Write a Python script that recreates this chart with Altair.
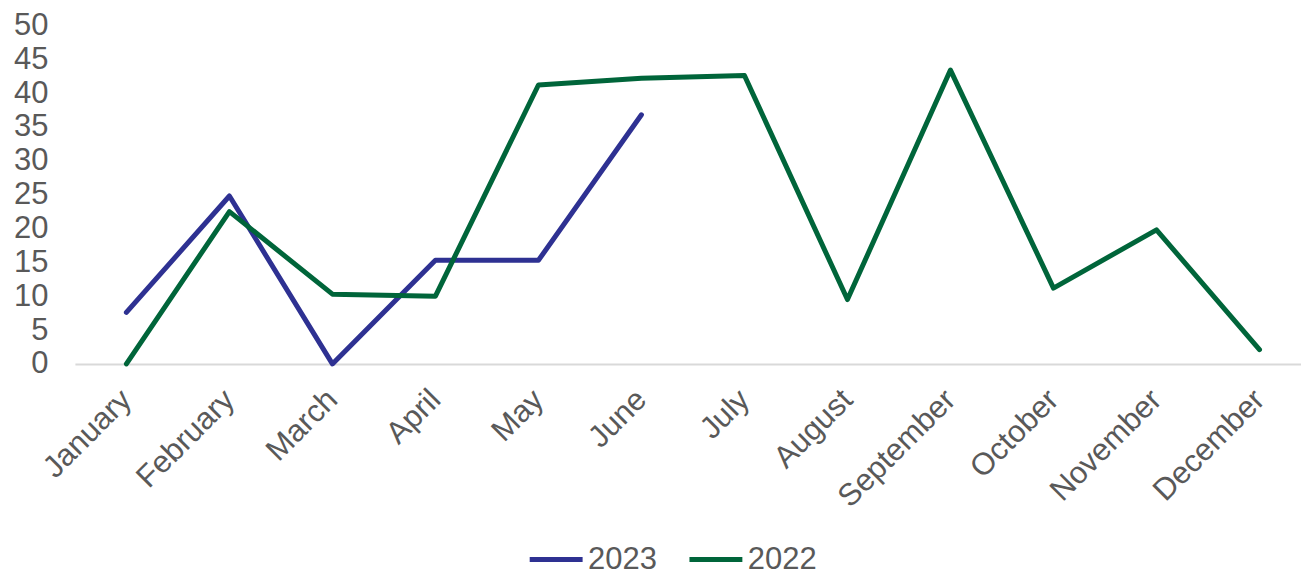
import altair as alt
import pandas as pd

months = ["January", "February", "March", "April", "May", "June",
          "July", "August", "September", "October", "November", "December"]
values_2023 = [7.6, 24.8, 0.0, 15.3, 15.3, 36.8]
values_2022 = [0.0, 22.5, 10.3, 10.0, 41.2, 42.2, 42.6, 9.5, 43.4, 11.2, 19.8, 2.1]
series = ["2023", "2022"]
colors = ["#2E3192", "#00653A"]

rows = []
for m, v in zip(months, values_2023):
    rows.append({"month": m, "value": v, "year": "2023"})
for m, v in zip(months, values_2022):
    rows.append({"month": m, "value": v, "year": "2022"})
df = pd.DataFrame(rows)

font = "Liberation Sans"
tc = "#595959"
fs = 31

chart = alt.Chart(df).mark_line(strokeWidth=5, strokeCap="round", strokeJoin="round").encode(
    x=alt.X("month:N", sort=months, title=None,
            scale=alt.Scale(padding=0.5),
            axis=alt.Axis(labelAngle=-45, labelAlign="right", labelBaseline="middle",
                          labelPadding=31, ticks=False, domainColor="#D9D9D9", domainWidth=2,
                          labelFont=font, labelFontSize=fs, labelColor=tc, grid=False)),
    y=alt.Y("value:Q", title=None,
            scale=alt.Scale(domain=[0, 50], nice=False),
            axis=alt.Axis(values=list(range(0, 51, 5)), domain=False, ticks=False, grid=False,
                          labelPadding=27, labelFont=font, labelFontSize=fs, labelColor=tc)),
    color=alt.Color("year:N", scale=alt.Scale(domain=series, range=colors), sort=series,
                    legend=alt.Legend(title=None, orient="none", direction="horizontal",
                                      legendX=453, legendY=506,
                                      symbolType="stroke", symbolSize=2809, symbolStrokeWidth=5,
                                      labelFont=font, labelFontSize=fs, labelColor=tc,
                                      labelOffset=3, columnPadding=22)),
    order=alt.Order("year:N"),
).properties(
    width=1238, height=339,
    padding={"left": 5, "top": 1, "right": -10, "bottom": 0},
).configure_view(stroke=None)

chart.save("out.html", embed_options={"renderer": "svg", "actions": False})
